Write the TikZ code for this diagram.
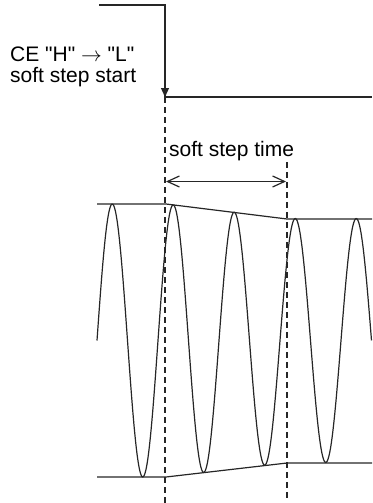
\documentclass[tikz,border=0pt]{standalone}
\usepackage{fontspec}
\setmainfont{Liberation Sans}
\usetikzlibrary{arrows.meta}
\begin{document}
\begin{tikzpicture}[x=1pt,y=-1pt,
  sig/.style={line width=1.2pt,black!85},
  guide/.style={line width=1.1pt,black!85,dash pattern=on 6pt off 4pt},
  lbl/.style={font=\fontsize{21}{25}\selectfont,inner sep=0pt,anchor=base west,align=left}]
\useasboundingbox (0,0) rectangle (372,503);
% CE signal
\coordinate (ceA) at (99,5);
\coordinate (ceB) at (165,5);
\coordinate (ceC) at (165,97);
\coordinate (ceD) at (372,97);
\draw[sig] (ceA) -- (ceB) -- (ceC) -- (ceD);
\draw[sig,-{Triangle[length=9pt,width=8pt]}] (ceB) -- (ceC);
\node[lbl] (cetxt) at (10,61.5) {CE \textquotedbl H\textquotedbl{} $\rightarrow$ \textquotedbl L\textquotedbl};
\node[lbl] (sstxt) at (10,82) {soft step start};
% dashed guides
\coordinate (d1t) at (165,97);
\coordinate (d1b) at (165,503);
\coordinate (d2t) at (287,162);
\coordinate (d2b) at (287,498);
\draw[guide] (d1t) -- (d1b);
\draw[guide] (d2t) -- (d2b);
\node[lbl] (sttxt) at (169,156.5) {soft step time};
\coordinate (aL) at (166,181.5);
\coordinate (aR) at (286,181.5);
\draw[sig,{Straight Barb[length=12pt,width=11pt]}-{Straight Barb[length=12pt,width=11pt]}] (aL) -- (aR);
% envelopes
\coordinate (u1) at (97,204);
\coordinate (u2) at (166,204);
\coordinate (u3) at (287,219);
\coordinate (u4) at (372,219);
\coordinate (l1) at (97,477);
\coordinate (l2) at (166,477);
\coordinate (l3) at (287,463);
\coordinate (l4) at (372,463);
\draw[sig] (u1) -- (u2) -- (u3) -- (u4);
\draw[sig] (l1) -- (l2) -- (l3) -- (l4);
% wave
\draw[sig,smooth] plot[domain=97:166,samples=80] (\x,{340.5-136.5*sin(5.9016*(\x-97))})
  -- plot[domain=166:287,samples=140] (\x,{340.5-(136.5-0.11983*(\x-166))*sin(5.9016*(\x-97))})
  -- plot[domain=287:371.5,samples=100] (\x,{340.5-122*sin(5.9016*(\x-97))});
\end{tikzpicture}
\end{document}
